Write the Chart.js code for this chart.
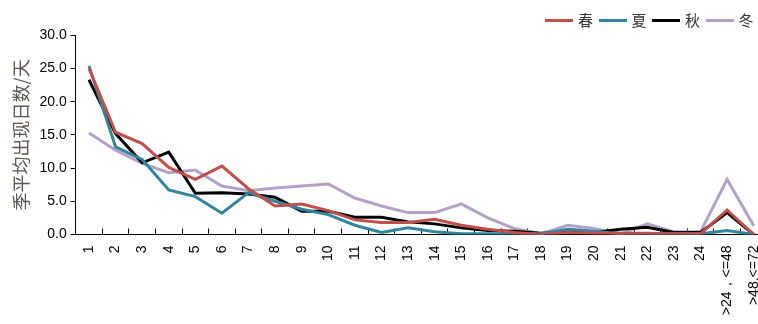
<!DOCTYPE html>
<html>
<head>
<meta charset="utf-8">
<script src="https://cdn.jsdelivr.net/npm/chart.js@4/dist/chart.umd.min.js"></script>
<style>
  html, body { margin: 0; padding: 0; background: #fff; overflow: hidden; width: 758px; height: 324px; }
  #wrap { position: relative; width: 767px; height: 324px; }
  #legend { position: absolute; left: 0; top: 0; width: 758px; height: 40px;
            font-family: "Noto Sans CJK SC", sans-serif; font-size: 15px; color: #333; }
  .item { position: absolute; top: 10px; height: 20px; }
  .swatch { position: absolute; left: 0; top: 9px; width: 28px; height: 3px; }
  .lbl { position: absolute; left: 33px; top: 0; line-height: 20px; white-space: nowrap; }
</style>
</head>
<body>
<div id="wrap">
  <canvas id="c" width="767" height="324"></canvas>
  <div id="legend"></div>
</div>
<script>
// Duration classes (hours) on the x axis
const categories = ['1','2','3','4','5','6','7','8','9','10','11','12','13','14','15','16','17','18','19','20','21','22','23','24','>24，<=48','>48.<=72'];

// Mean number of days per season
const spring = [25.0, 15.4, 13.7, 10.1, 8.3, 10.3, 6.9, 4.3, 4.6, 3.6, 2.2, 1.8, 1.8, 2.3, 1.4, 0.8, 0.3, 0.0, 0.3, 0.2, 0.2, 0.2, 0.1, 0.1, 3.7, 0.0];
const summer = [25.4, 13.2, 11.3, 6.7, 5.7, 3.2, 6.3, 5.0, 3.8, 3.0, 1.4, 0.3, 1.0, 0.4, 0.1, 0.1, 0.1, 0.1, 0.8, 0.5, 0.1, 0.1, 0.1, 0.1, 0.6, 0.0];
const autumn = [23.3, 15.2, 10.8, 12.4, 6.2, 6.3, 6.1, 5.6, 3.5, 3.5, 2.6, 2.6, 1.9, 1.6, 1.0, 0.6, 0.5, 0.2, 0.4, 0.3, 0.8, 1.1, 0.3, 0.3, 3.3, 0.0];
const winter = [15.3, 12.7, 10.7, 9.3, 9.7, 7.3, 6.6, 7.0, 7.3, 7.6, 5.5, 4.3, 3.3, 3.3, 4.6, 2.5, 0.9, 0.1, 1.4, 0.9, 0.1, 1.6, 0.4, 0.4, 8.3, 1.3];

const seriesNames = ['春', '夏', '秋', '冬'];
const yTicks = [0, 5, 10, 15, 20, 25, 30];

const colors = ['#C0504D', '#31859C', '#000000', '#B3A2C7'];
const values = [spring, summer, autumn, winter];

const datasets = seriesNames.map((name, i) => ({
  label: name,
  data: values[i],
  borderColor: colors[i],
  backgroundColor: colors[i],
  borderWidth: 3,
  pointRadius: 0,
  tension: 0,
  fill: false
}));

const tickFont = { family: '"Liberation Sans", Arial, sans-serif', size: 14 };

new Chart(document.getElementById('c'), {
  type: 'line',
  data: { labels: categories, datasets: datasets },
  options: {
    responsive: false,
    animation: false,
    events: [],
    layout: { padding: { top: 35.3, left: 0, right: 0, bottom: 0 } },
    plugins: { legend: { display: false }, tooltip: { enabled: false } },
    scales: {
      x: {
        type: 'category',
        offset: true,
        grid: { offset: true, drawOnChartArea: false, drawTicks: true, tickLength: -6, color: '#000', lineWidth: 1 },
        border: { display: true, color: '#000', width: 1 },
        ticks: { autoSkip: false, minRotation: 90, maxRotation: 90, padding: 17, color: '#000', font: tickFont },
        afterFit: s => { s.height = 89.5; s.paddingLeft = 0; s.paddingRight = 0; }
      },
      y: {
        min: 0, max: 30,
        afterBuildTicks: s => { s.ticks = yTicks.map(v => ({ value: v })); },
        ticks: { callback: v => Number(v).toFixed(1), padding: 4, color: '#000', font: tickFont },
        grid: { drawOnChartArea: false, drawTicks: true, tickLength: 5, color: '#000', lineWidth: 1 },
        border: { display: true, color: '#000', width: 1 },
        title: {
          display: true,
          text: '季平均出现日数/天',
          color: '#5e5650',
          font: { family: '"Noto Sans CJK SC", sans-serif', size: 18 },
          padding: { top: 10, bottom: 0 }
        },
        afterFit: s => { s.width = 75.7; s.paddingTop = 0; s.paddingBottom = 0; }
      }
    }
  }
});

// Legend row, top right
const legend = document.getElementById('legend');
seriesNames.forEach((name, i) => {
  const item = document.createElement('div');
  item.className = 'item';
  item.style.left = (545 + 53.5 * i) + 'px';
  const sw = document.createElement('div');
  sw.className = 'swatch';
  sw.style.background = colors[i];
  const lb = document.createElement('div');
  lb.className = 'lbl';
  lb.textContent = name;
  item.appendChild(sw);
  item.appendChild(lb);
  legend.appendChild(item);
});
</script>
</body>
</html>
